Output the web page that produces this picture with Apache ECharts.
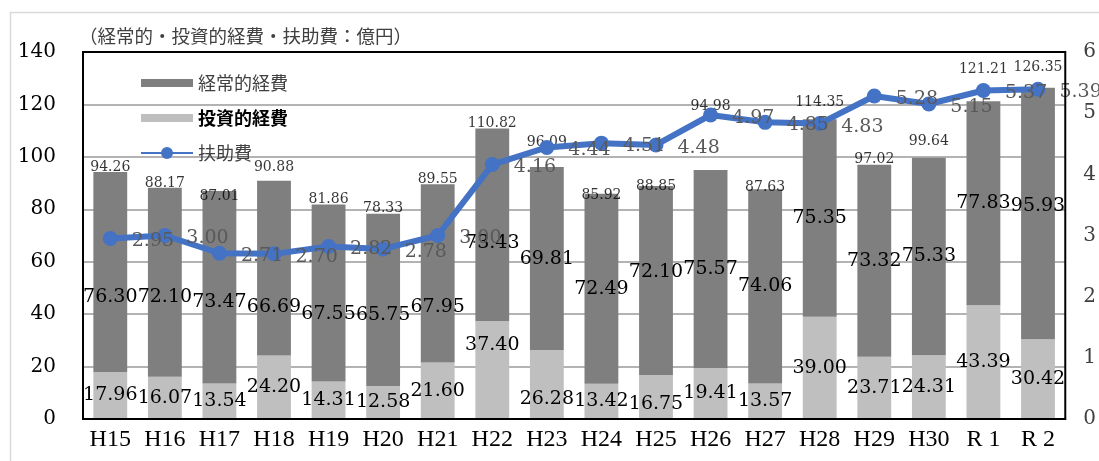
<!DOCTYPE html>
<html>
<head>
<meta charset="utf-8">
<script src="https://cdn.jsdelivr.net/npm/echarts@6/dist/echarts.min.js"></script>
<style>
  html, body { margin: 0; padding: 0; background: #fff; }
  #chart { width: 1099px; height: 461px; }
</style>
</head>
<body>
<div id="chart"></div>
<script>
// Fiscal years
const years = ['H15', 'H16', 'H17', 'H18', 'H19', 'H20', 'H21', 'H22', 'H23',
  'H24', 'H25', 'H26', 'H27', 'H28', 'H29', 'H30', 'R 1', 'R 2'];
// 投資的経費 (億円) - lower segment
const investment = [17.96, 16.07, 13.54, 24.20, 14.31, 12.58, 21.60, 37.40, 26.28,
  13.42, 16.75, 19.41, 13.57, 39.00, 23.71, 24.31, 43.39, 30.42];
// 経常的経費 (億円) - upper segment
const ordinary = [76.30, 72.10, 73.47, 66.69, 67.55, 65.75, 67.95, 73.43, 69.81,
  72.49, 72.10, 75.57, 74.06, 75.35, 73.32, 75.33, 77.83, 95.93];
// 合計 (億円)
const totals = [94.26, 88.17, 87.01, 90.88, 81.86, 78.33, 89.55, 110.82, 96.09,
  85.92, 88.85, 94.98, 87.63, 114.35, 97.02, 99.64, 121.21, 126.35];
// 扶助費 (億円) - right axis
const welfare = [2.95, 3.00, 2.71, 2.70, 2.82, 2.78, 3.00, 4.16, 4.44,
  4.51, 4.48, 4.97, 4.85, 4.83, 5.28, 5.15, 5.37, 5.39];
// Axis ticks
const leftTicks = [0, 20, 40, 60, 80, 100, 120, 140];
const rightTicks = [0, 1, 2, 3, 4, 5, 6];

// Hand-placed label nudges (pixels, vertical)
const ordinaryShift = [25, 15, 15, 39, 21, 15, 34, 18, 0, 0, -9, 0, 0, 0, 0, 0, 0, -7];
const investmentShift = [0, 0, 0, 0, 0, 0, 0, -25, 15, 0, 7, 0, 0, 0, 0, 0, 0, 0];
const totalShift = [0, 0, 10, -8, 0, 0, 0, 0, -20, 7, 5, -59, 3, -12, 0, -11, -27, -15];

const serif = '"DejaVu Serif", "Liberation Serif", serif';
const cjk = '"Noto Sans CJK JP", "Noto Sans", sans-serif';

const chart = echarts.init(document.getElementById('chart'), null, { renderer: 'canvas' });

const option = {
  animation: false,
  backgroundColor: '#fff',
  graphic: [{
    type: 'rect',
    z: -10,
    shape: { x: 10.5, y: 12.5, width: 1200, height: 600 },
    style: { fill: 'none', stroke: '#d9d9d9', lineWidth: 1.5 }
  }],
  title: {
    text: '（経常的・投資的経費・扶助費：億円）',
    left: 74,
    top: 22,
    textStyle: { fontFamily: cjk, fontSize: 18.5, fontWeight: 'normal', color: '#404040' }
  },
  legend: {
    orient: 'vertical',
    left: 135,
    top: 69,
    itemWidth: 52,
    itemHeight: 15,
    itemGap: 17,
    textStyle: { fontFamily: cjk, fontSize: 18, color: '#404040' },
    data: [
      { name: '経常的経費', icon: 'path://M0,0H52V8H0Z' },
      { name: '投資的経費', icon: 'path://M0,0H52V8H0Z', textStyle: { fontWeight: 'bold', color: '#000' } },
      { name: '扶助費' }
    ]
  },
  grid: { left: 83, right: 27, top: 52, bottom: 42, show: true, borderColor: '#000', borderWidth: 2, backgroundColor: 'transparent', z: 5 },
  xAxis: {
    type: 'category',
    data: years,
    axisLine: { show: true, lineStyle: { color: '#000', width: 2 } },
    axisTick: { show: false },
    axisLabel: { fontFamily: '"Liberation Serif", serif', fontSize: 24, color: '#000', margin: 9, interval: 0 }
  },
  yAxis: [{
    type: 'value',
    min: leftTicks[0],
    max: leftTicks[leftTicks.length - 1],
    interval: leftTicks[1] - leftTicks[0],
    axisLine: { show: false },
    axisTick: { show: false },
    splitLine: { lineStyle: { color: '#b3b3b3', width: 2 } },
    axisLabel: { fontFamily: serif, fontSize: 20, color: '#000', margin: 27 }
  }, {
    type: 'value',
    min: rightTicks[0],
    max: rightTicks[rightTicks.length - 1],
    interval: rightTicks[1] - rightTicks[0],
    position: 'right',
    axisLine: { show: false },
    axisTick: { show: false },
    splitLine: { show: false },
    axisLabel: { fontFamily: serif, fontSize: 20, color: '#404040', margin: 18 }
  }],
  series: [
    {
      name: '投資的経費',
      type: 'bar',
      stack: 'cost',
      barWidth: '62%',
      itemStyle: { color: '#bfbfbf' },
      z: 2,
      data: investment.map((v, i) => ({
        value: v,
        label: { offset: [0, investmentShift[i]] }
      })),
      label: {
        show: true,
        position: 'inside',
        fontFamily: serif,
        fontSize: 19,
        color: '#000',
        formatter: p => p.value.toFixed(2)
      }
    },
    {
      name: '経常的経費',
      type: 'bar',
      stack: 'cost',
      barWidth: '62%',
      itemStyle: { color: '#7f7f7f' },
      z: 2,
      data: ordinary.map((v, i) => ({
        value: v,
        label: { offset: [0, ordinaryShift[i]] }
      })),
      label: {
        show: true,
        position: 'inside',
        fontFamily: serif,
        fontSize: 19,
        color: '#000',
        formatter: p => p.value.toFixed(2)
      }
    },
    {
      // Totals written above each stacked bar
      name: '合計',
      type: 'scatter',
      symbolSize: 0,
      silent: true,
      z: 3,
      data: totals.map((v, i) => ({
        value: v,
        label: { offset: [0, totalShift[i]] }
      })),
      label: {
        show: true,
        position: 'top',
        distance: -2,
        fontFamily: serif,
        fontSize: 14,
        color: '#000',
        formatter: p => p.value.toFixed(2)
      }
    },
    {
      name: '扶助費',
      type: 'line',
      yAxisIndex: 1,
      data: welfare,
      symbol: 'circle',
      symbolSize: 15,
      z: 4,
      lineStyle: { color: '#4472c4', width: 6 },
      itemStyle: { color: '#4472c4' },
      label: {
        show: true,
        position: 'right',
        distance: 14,
        offset: [0, 3],
        fontFamily: serif,
        fontSize: 19,
        color: '#595959',
        formatter: p => p.value.toFixed(2)
      }
    }
  ]
};

chart.setOption(option);
</script>
</body>
</html>
